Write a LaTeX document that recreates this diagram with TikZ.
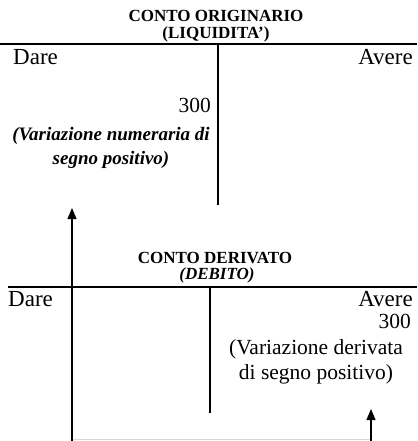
\documentclass[tikz,border=0pt]{standalone}
\usepackage{fontspec}
\setmainfont{Liberation Serif}
\usetikzlibrary{arrows.meta}
\begin{document}
\begin{tikzpicture}[x=1pt,y=-1pt,
  ttl/.style={font=\fontsize{17}{18}\selectfont\bfseries, inner sep=0pt, anchor=base},
  body/.style={font=\fontsize{21.5}{22}\selectfont, inner sep=0pt},
  side/.style={font=\fontsize{23}{24}\selectfont, inner sep=0pt},
  bi/.style={font=\fontsize{19}{24}\selectfont\bfseries\itshape, inner sep=0pt, align=center},
  rule/.style={line width=1.2pt},
  conn/.style={line width=1.2pt},
  arr/.style={conn, -{Triangle[length=11pt,width=9pt]}}]
\useasboundingbox (0,0) rectangle (417,441);
% top account
\node[ttl] (t1) at (216,22) {CONTO ORIGINARIO};
\node[ttl] (t1b) at (216,38.5) {(LIQUIDITA')};
\coordinate (h1l) at (0,44);
\coordinate (h1r) at (417,44);
\draw[rule] (h1l) -- (h1r);
\coordinate (v1t) at (218,44);
\coordinate (v1b) at (218,205);
\draw[rule] (v1t) -- (v1b);
\node[side, anchor=base west] (d1) at (13,65) {Dare};
\node[side, anchor=base east] (a1) at (413,65) {Avere};
\node[body, anchor=base east] (n1) at (211,113) {300};
\node[bi, anchor=north] (c1) at (111,127) {(Variazione numeraria di\\segno positivo)};
% bottom account
\node[ttl] (t2) at (215,263) {CONTO DERIVATO};
\node[ttl, font=\fontsize{17}{18}\selectfont\bfseries\itshape] (t2b) at (217,279.5) {(DEBITO)};
\coordinate (h2l) at (8,287);
\coordinate (h2r) at (417,287);
\draw[rule] (h2l) -- (h2r);
\coordinate (v2t) at (210,287);
\coordinate (v2b) at (210,413);
\draw[rule] (v2t) -- (v2b);
\node[side, anchor=base west] (d2) at (8,306) {Dare};
\node[side, anchor=base east] (a2) at (413,306) {Avere};
\node[body, anchor=base east] (n2) at (411,328) {300};
\node[body, anchor=north, align=center, font=\fontsize{21.5}{25}\selectfont] (c2) at (316,339) {(Variazione derivata\\di segno positivo)};
% connectors
\coordinate (p1) at (72,441);
\coordinate (q1) at (72,208);
\coordinate (p2) at (371,441);
\coordinate (q2) at (371,409);
\draw[arr] (p1) -- (q1);
\draw[arr] (p2) -- (q2);
\coordinate (b1) at (73,439.5);
\coordinate (b2) at (370,439.5);
\draw[black!15, line width=0.8pt] (b1) -- (b2);
\end{tikzpicture}
\end{document}
